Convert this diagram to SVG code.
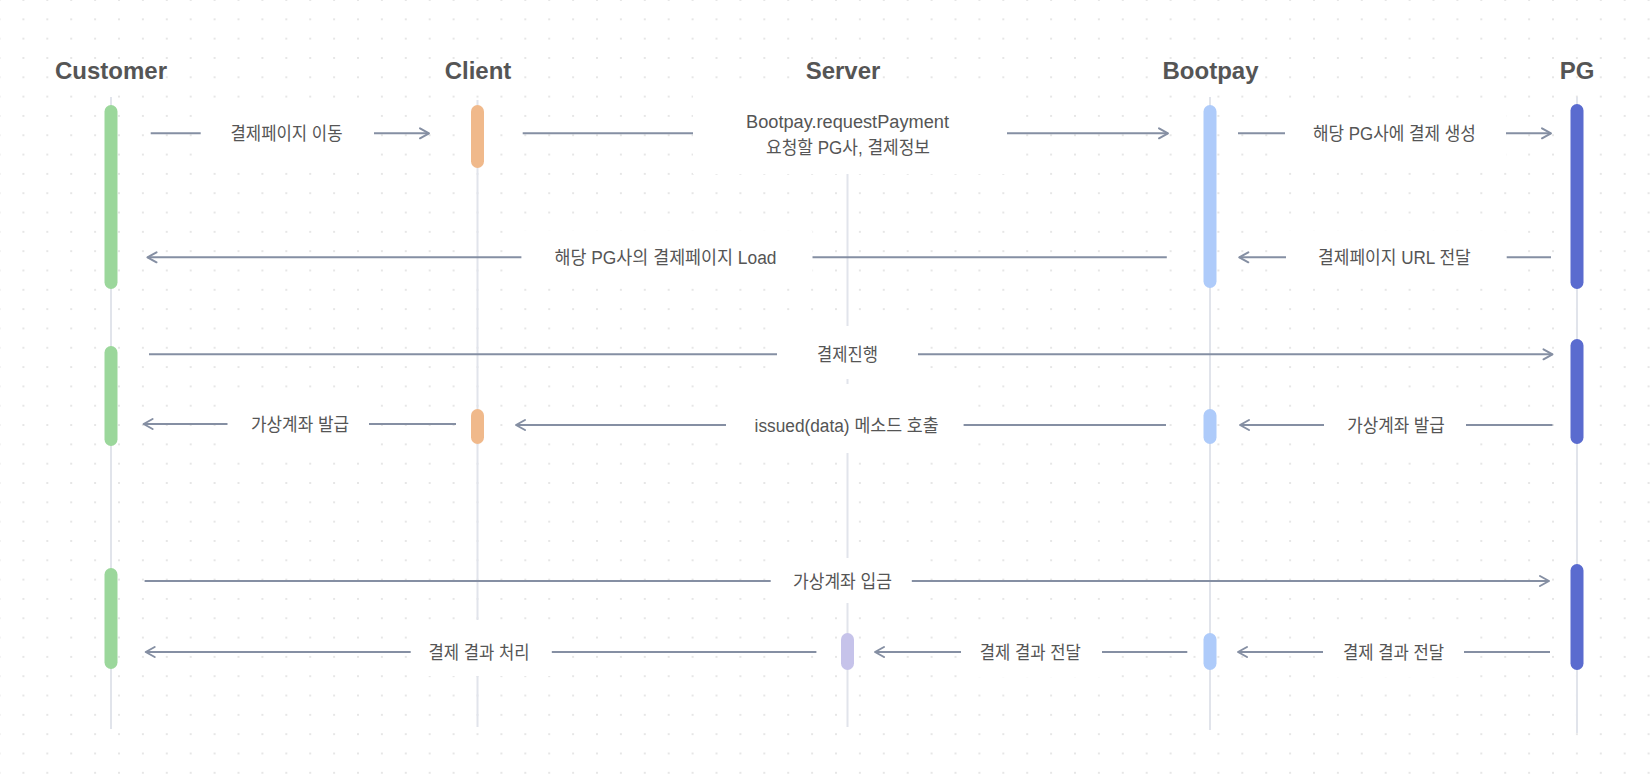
<svg xmlns="http://www.w3.org/2000/svg" width="1652" height="774" viewBox="0 0 1652 774">
<defs>
<pattern id="dots" x="-12.45" y="-9.66" width="23.9" height="19.32" patternUnits="userSpaceOnUse">
<circle cx="11.95" cy="9.66" r="0.8" fill="#c6c6c6"/>
</pattern>
<marker id="arr" markerUnits="userSpaceOnUse" markerWidth="14" markerHeight="14" viewBox="0 0 14 14" refX="11" refY="7" orient="auto">
<path d="M2,2 L11,7 L2,12" fill="none" stroke="#858fa3" stroke-width="2" stroke-linecap="round" stroke-linejoin="round"/>
</marker>
<style>
.head{font-family:"Liberation Sans","Noto Sans CJK KR",sans-serif;font-size:24px;font-weight:bold;fill:#555;text-anchor:middle}
.lbl{font-family:"Liberation Sans","Noto Sans CJK KR",sans-serif;font-size:18px;fill:#555;text-anchor:middle}
.life{stroke:#e1e4eb;stroke-width:2;fill:none}
.msg{stroke:#858fa3;stroke-width:2;fill:none;marker-end:url(#arr)}
.box{fill:#ffffff}
.green{fill:#9bd79b}
.orange{fill:#f0b98b}
.lblue{fill:#aecbfa}
.dblue{fill:#5a6bcf}
.lav{fill:#c6c3ea}
</style>
</defs>
<rect x="0" y="0" width="1652" height="774" fill="#ffffff"/>
<rect x="0" y="0" width="1652" height="774" fill="url(#dots)"/>

<g id="customer">
<text class="head" x="111" y="79">Customer</text>
<line class="life" x1="111" y1="97" x2="111" y2="729"/>
<rect class="green" x="104.5" y="105" width="13" height="184" rx="6.5"/>
<rect class="green" x="104.5" y="346" width="13" height="100" rx="6.5"/>
<rect class="green" x="104.5" y="568" width="13" height="101" rx="6.5"/>
</g>

<g id="client">
<text class="head" x="478" y="79">Client</text>
<line class="life" x1="477.5" y1="100" x2="477.5" y2="727"/>
<rect class="orange" x="471" y="105" width="13" height="63" rx="6.5"/>
<rect class="orange" x="471" y="409" width="13" height="35" rx="6.5"/>
</g>

<g id="server">
<text class="head" x="843" y="79">Server</text>
<line class="life" x1="847.5" y1="174" x2="847.5" y2="727"/>
<rect class="lav" x="841" y="633" width="13" height="37" rx="6.5"/>
</g>

<g id="bootpay">
<text class="head" x="1210.5" y="79">Bootpay</text>
<line class="life" x1="1210" y1="97" x2="1210" y2="730"/>
<rect class="lblue" x="1203.5" y="105" width="13" height="183" rx="6.5"/>
<rect class="lblue" x="1203.5" y="409" width="13" height="35" rx="6.5"/>
<rect class="lblue" x="1203.5" y="633" width="13" height="37" rx="6.5"/>
</g>

<g id="pg">
<text class="head" x="1577" y="79">PG</text>
<line class="life" x1="1577" y1="97" x2="1577" y2="733"/>
<rect class="dblue" x="1570.5" y="104" width="13" height="185" rx="6.5"/>
<rect class="dblue" x="1570.5" y="339" width="13" height="105" rx="6.5"/>
<rect class="dblue" x="1570.5" y="564" width="13" height="106" rx="6.5"/>
</g>

<g id="connectors">
<g id="m1">
<line class="msg" x1="150.7" y1="133.3" x2="429" y2="133.3"/>
<rect class="box" x="200.7" y="107" width="173.3" height="52"/>
<text class="lbl" x="286.5" y="140" textLength="112" lengthAdjust="spacingAndGlyphs">결제페이지 이동</text>
</g>
<g id="m2">
<line class="msg" x1="522.7" y1="133.3" x2="1168" y2="133.3"/>
<rect class="box" x="693" y="95" width="314" height="79"/>
<text class="lbl" x="847.5" y="128" textLength="203" lengthAdjust="spacingAndGlyphs">Bootpay.requestPayment</text>
<text class="lbl" x="848" y="154.3" textLength="164" lengthAdjust="spacingAndGlyphs">요청할 PG사, 결제정보</text>
</g>
<g id="m3">
<line class="msg" x1="1238" y1="133.3" x2="1551" y2="133.3"/>
<rect class="box" x="1285" y="107" width="221" height="52"/>
<text class="lbl" x="1394.4" y="140" textLength="163" lengthAdjust="spacingAndGlyphs">해당 PG사에 결제 생성</text>
</g>
<g id="m4">
<line class="msg" x1="1551" y1="257.3" x2="1239.3" y2="257.3"/>
<rect class="box" x="1286" y="231" width="220.7" height="52"/>
<text class="lbl" x="1394.4" y="264" textLength="152.7" lengthAdjust="spacingAndGlyphs">결제페이지 URL 전달</text>
</g>
<g id="m5">
<line class="msg" x1="1166.8" y1="257.3" x2="147.5" y2="257.3"/>
<rect class="box" x="521.4" y="231" width="291.1" height="52"/>
<text class="lbl" x="665.5" y="264" textLength="222" lengthAdjust="spacingAndGlyphs">해당 PG사의 결제페이지 Load</text>
</g>
<g id="m6">
<line class="msg" x1="149" y1="354.3" x2="1552.5" y2="354.3"/>
<rect class="box" x="777" y="326" width="141" height="53"/>
<text class="lbl" x="847.5" y="361" textLength="61" lengthAdjust="spacingAndGlyphs">결제진행</text>
</g>
<g id="m7">
<line class="msg" x1="1552.5" y1="425" x2="1240" y2="425"/>
<rect class="box" x="1324" y="398" width="142" height="52"/>
<text class="lbl" x="1396" y="431.8" textLength="97.5" lengthAdjust="spacingAndGlyphs">가상계좌 발급</text>
</g>
<g id="m8">
<line class="msg" x1="1166" y1="425" x2="516" y2="425"/>
<rect class="box" x="726" y="384" width="237.6" height="69"/>
<text class="lbl" x="846.6" y="431.8" textLength="184" lengthAdjust="spacingAndGlyphs">issued(data) 메소드 호출</text>
</g>
<g id="m9">
<line class="msg" x1="456" y1="424" x2="143.6" y2="424"/>
<rect class="box" x="227.5" y="397" width="141.5" height="52"/>
<text class="lbl" x="300" y="430.8" textLength="98" lengthAdjust="spacingAndGlyphs">가상계좌 발급</text>
</g>
<g id="m10">
<line class="msg" x1="144.6" y1="581" x2="1549" y2="581"/>
<rect class="box" x="770.7" y="558" width="141.1" height="45"/>
<text class="lbl" x="842.5" y="587.8" textLength="99" lengthAdjust="spacingAndGlyphs">가상계좌 입금</text>
</g>
<g id="m11">
<line class="msg" x1="1550" y1="652" x2="1238" y2="652"/>
<rect class="box" x="1323" y="625" width="141" height="52"/>
<text class="lbl" x="1393.5" y="658.8" textLength="101" lengthAdjust="spacingAndGlyphs">결제 결과 전달</text>
</g>
<g id="m12">
<line class="msg" x1="1187.3" y1="652" x2="875" y2="652"/>
<rect class="box" x="961" y="625" width="141" height="52"/>
<text class="lbl" x="1030.3" y="658.8" textLength="101" lengthAdjust="spacingAndGlyphs">결제 결과 전달</text>
</g>
<g id="m13">
<line class="msg" x1="816.4" y1="652" x2="145.7" y2="652"/>
<rect class="box" x="410.7" y="620" width="141.1" height="56"/>
<text class="lbl" x="479" y="658.8" textLength="101" lengthAdjust="spacingAndGlyphs">결제 결과 처리</text>
</g>
</g>
</svg>
